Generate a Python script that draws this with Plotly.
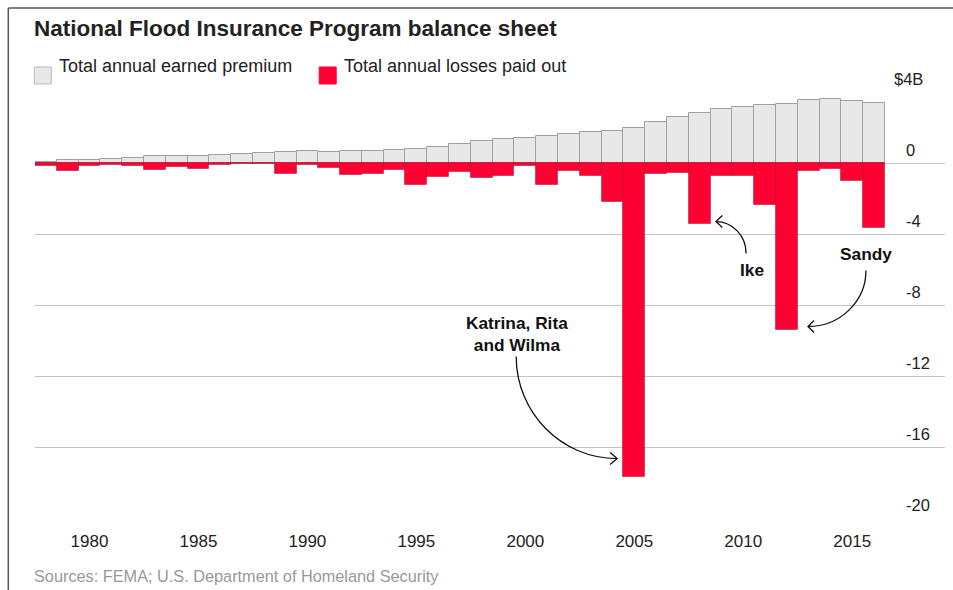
import plotly.graph_objects as go

years = list(range(1978, 2017))
premium = [0.07, 0.17, 0.19, 0.22, 0.30, 0.39, 0.39, 0.41, 0.47, 0.52,
           0.58, 0.60, 0.65, 0.64, 0.65, 0.68, 0.73, 0.79, 0.90, 1.07,
           1.24, 1.33, 1.43, 1.52, 1.65, 1.72, 1.83, 1.98, 2.29, 2.57,
           2.83, 3.02, 3.13, 3.24, 3.35, 3.55, 3.60, 3.47, 3.36]
losses = [0.15, 0.47, 0.19, 0.10, 0.15, 0.40, 0.25, 0.33, 0.10, 0.08,
          0.05, 0.60, 0.12, 0.30, 0.70, 0.64, 0.38, 1.26, 0.79, 0.49,
          0.87, 0.72, 0.19, 1.26, 0.43, 0.73, 2.20, 17.70, 0.62, 0.58,
          3.44, 0.72, 0.72, 2.37, 9.40, 0.47, 0.34, 1.00, 3.66]
losses_neg = [-v for v in losses]

x_ticks = [1980, 1985, 1990, 1995, 2000, 2005, 2010, 2015]
y_ticks = [4, 0, -4, -8, -12, -16, -20]
y_tick_text = ["$4B", "0", "-4", "-8", "-12", "-16", "-20"]

FONT = "Liberation Sans, Arial, sans-serif"
GRAY = "#e8e8e8"
RED = "#ff0033"

W, H = 953, 590
L, R, T, B = 34.7, 8, 92, 72
PW, PH = W - L - R, H - T - B


def pxx(p):
    return (p - L) / PW


def pxy(p):
    return (H - B - p) / PH


fig = go.Figure()
fig.add_trace(go.Bar(x=years, y=premium, marker=dict(color=GRAY, line=dict(color="#a0a0a0", width=1)),
                     name="Total annual earned premium", showlegend=False))
fig.add_trace(go.Bar(x=years, y=losses_neg, marker=dict(color=RED, line=dict(color="rgba(150,0,30,0.45)", width=1)),
                     name="Total annual losses paid out", showlegend=False))

shapes = []
annotations = []

# frame lines (top and left)
shapes.append(dict(type="line", xref="paper", yref="paper", x0=pxx(8), x1=pxx(953), y0=pxy(8), y1=pxy(8),
                   line=dict(color="#555", width=1.5)))
shapes.append(dict(type="line", xref="paper", yref="paper", x0=pxx(8), x1=pxx(8), y0=pxy(8), y1=pxy(590),
                   line=dict(color="#555", width=1.5)))

# title
annotations.append(dict(text="<b>National Flood Insurance Program balance sheet</b>", xref="paper", yref="paper",
                        x=pxx(32), y=pxy(29), xanchor="left", yanchor="middle", showarrow=False,
                        font=dict(family=FONT, size=22.5, color="#222")))
# legend
shapes.append(dict(type="rect", xref="paper", yref="paper", x0=pxx(34), x1=pxx(51), y0=pxy(67), y1=pxy(84),
                   fillcolor=GRAY, line=dict(color="#bbb", width=1)))
shapes.append(dict(type="rect", xref="paper", yref="paper", x0=pxx(319), x1=pxx(336), y0=pxy(67), y1=pxy(84),
                   fillcolor=RED, line=dict(color=RED, width=1)))
annotations.append(dict(text="Total annual earned premium", xref="paper", yref="paper", x=pxx(57), y=pxy(66),
                        xanchor="left", yanchor="middle", showarrow=False, font=dict(family=FONT, size=18, color="#222")))
annotations.append(dict(text="Total annual losses paid out", xref="paper", yref="paper", x=pxx(342), y=pxy(66),
                        xanchor="left", yanchor="middle", showarrow=False, font=dict(family=FONT, size=18, color="#222")))

# y tick labels above gridlines
for v, t in zip(y_ticks, y_tick_text):
    xpos = pxx(892) if t.startswith("$") else pxx(904)
    annotations.append(dict(text=t, xref="paper", yref="y", x=xpos, y=v, xanchor="left", yanchor="bottom",
                            yshift=2, showarrow=False, font=dict(family=FONT, size=16.5, color="#222")))

# source
annotations.append(dict(text="Sources: FEMA; U.S. Department of Homeland Security", xref="paper", yref="paper",
                        x=pxx(32), y=pxy(576), xanchor="left", yanchor="middle", showarrow=False,
                        font=dict(family=FONT, size=16.3, color="#999")))

# event annotations
bold = dict(family=FONT, size=17.3, color="#111")
annotations.append(dict(text="<b>Katrina, Rita<br>and Wilma</b>", x=1999.62, y=-9.66, xanchor="center",
                        yanchor="middle", showarrow=False, font=bold))
annotations.append(dict(text="<b>Ike</b>", x=2010.40, y=-6.0, xanchor="center", yanchor="middle",
                        showarrow=False, font=bold))
annotations.append(dict(text="<b>Sandy</b>", x=2015.63, y=-5.15, xanchor="center", yanchor="middle",
                        showarrow=False, font=bold))

arrow_line = dict(color="#111", width=1.3)
arrows = [
    # (start, ctrl1, ctrl2, tip, arm1, arm2)
    ((1999.58, -10.90), (1999.58, -14.06), (2001.64, -16.65), (2004.21, -16.65), (2003.89, -16.31), (2003.89, -16.99)),
    ((2010.13, -5.10), (2010.13, -4.10), (2009.51, -3.30), (2008.75, -3.30), (2009.04, -2.96), (2009.04, -3.63)),
    ((2015.63, -6.06), (2015.63, -7.80), (2014.44, -9.21), (2012.97, -9.21), (2013.25, -8.87), (2013.25, -9.55)),
]
for s, c1, c2, tip, a1, a2 in arrows:
    shapes.append(dict(type="path", xref="x", yref="y",
                       path=f"M {s[0]},{s[1]} C {c1[0]},{c1[1]} {c2[0]},{c2[1]} {tip[0]},{tip[1]}",
                       line=arrow_line))
    shapes.append(dict(type="path", xref="x", yref="y",
                       path=f"M {a1[0]},{a1[1]} L {tip[0]},{tip[1]} L {a2[0]},{a2[1]}",
                       line=arrow_line))

fig.update_layout(
    width=W, height=H,
    margin=dict(l=L, r=R, t=T, b=B, pad=0),
    paper_bgcolor="white", plot_bgcolor="white",
    barmode="relative", bargap=0,
    showlegend=False,
    shapes=shapes, annotations=annotations,
    font=dict(family=FONT, color="#222"),
)
fig.update_xaxes(range=[1977.5, 1977.5 + PW / 21.8], tickvals=x_ticks, ticktext=[str(v) for v in x_ticks],
                 showgrid=False, zeroline=False, showline=False, ticks="", ticklabelstandoff=11,
                 tickfont=dict(family=FONT, size=17, color="#222"), fixedrange=True)
fig.update_yaxes(range=[-20, 4], tickvals=y_ticks, showticklabels=False, showgrid=True, gridcolor="#c4c4c4",
                 gridwidth=1, zeroline=False, showline=False, ticks="", fixedrange=True)

fig.write_html("out.html")
